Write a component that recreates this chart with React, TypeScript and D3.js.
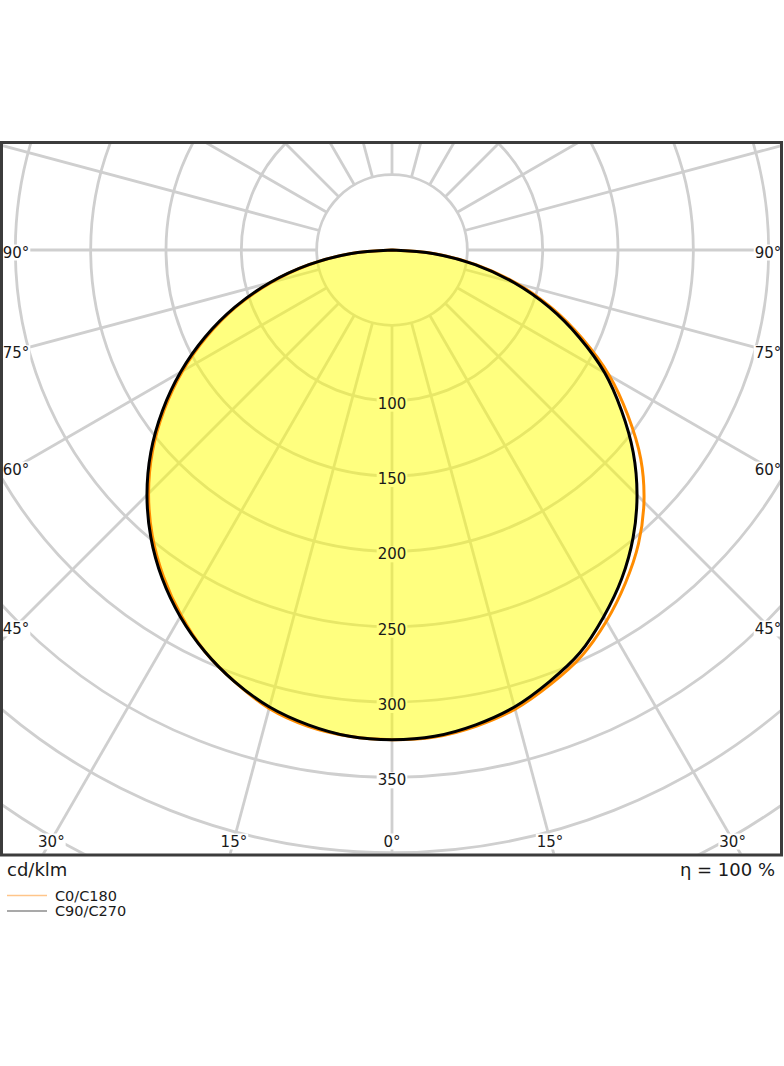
import { useEffect, useRef } from 'react';
import * as d3 from 'd3';

// gamma angles (deg) and luminous intensity in cd/klm per C-plane
const gammaAngles = [0, 5, 10, 15, 20, 25, 30, 35, 40, 45, 50, 55, 60, 65, 70, 75, 80, 85, 90];
const c0Values = [325, 324.5, 321, 315.5, 307, 297.5, 284.5, 270, 254.5, 236.5, 215.5, 191, 166.5, 139.5, 113, 85.5, 57, 28.5, 0];
const c180Values = [325, 324, 321, 315, 305, 294, 280, 264.5, 247.5, 228.5, 207.5, 184.5, 160.5, 135.5, 110, 83, 55.5, 28, 0];
const c90Values = [325, 324, 320, 314, 305, 295, 281, 266, 249, 230, 209, 186, 163, 137, 111, 84, 56, 28, 0];
const c270Values = [325, 324, 320, 314, 305, 294, 281, 266, 249, 230, 209, 186, 162, 137, 111, 84, 56, 28, 0];

const ringValues = [50, 100, 150, 200, 250, 300, 350, 400, 450, 500];
const ringLabels = [100, 150, 200, 250, 300, 350];
const sideAngleLabels = [90, 75, 60, 45];
const bottomAngleLabels = [30, 15, 0];

const legendItems = [
  { label: 'C0/C180', stroke: '#ffc58a', width: 1.6 },
  { label: 'C90/C270', stroke: '#555555', width: 1.2 },
];

const W = 784;
const H = 1066;
const frame = { x: 1.5, y: 142.5, w: 780, h: 712.5 };
const cx = 392;
const cy = 250;
const FONT = '"DejaVu Sans", sans-serif';
const rad = (deg: number) => (deg * Math.PI) / 180;

export default function App() {
  const svgRef = useRef<SVGSVGElement>(null);

  useEffect(() => {
    if (!svgRef.current) return;
    const svg = d3.select(svgRef.current);
    svg.selectAll('*').remove();

    const r = d3.scaleLinear().domain([0, 450]).range([0, 678]);

    svg.append('defs').append('clipPath').attr('id', 'plot-clip')
      .append('rect')
      .attr('x', frame.x + 1.5).attr('y', frame.y + 1.5)
      .attr('width', frame.w - 3).attr('height', frame.h - 3);

    const plot = svg.append('g').attr('clip-path', 'url(#plot-clip)');
    const gridG = plot.append('g').attr('transform', `translate(${cx},${cy})`);
    const bgG = plot.append('g');
    const fillG = plot.append('g').attr('transform', `translate(${cx},${cy})`);
    const curveG = plot.append('g').attr('transform', `translate(${cx},${cy})`);
    const textG = plot.append('g');

    // rings
    gridG.selectAll('circle')
      .data(ringValues)
      .join('circle')
      .attr('r', (d) => r(d))
      .attr('fill', 'none')
      .attr('stroke', '#cfcfcf')
      .attr('stroke-width', 2.8);

    // spokes every 15 degrees, starting at the 50 ring
    gridG.selectAll('line')
      .data(d3.range(0, 360, 15))
      .join('line')
      .attr('x1', (a) => r(50) * Math.sin(rad(a)))
      .attr('y1', (a) => r(50) * Math.cos(rad(a)))
      .attr('x2', (a) => r(520) * Math.sin(rad(a)))
      .attr('y2', (a) => r(520) * Math.cos(rad(a)))
      .attr('stroke', '#cfcfcf')
      .attr('stroke-width', 2.8);

    // labels (text on top, white boxes under the fill)
    const addLabel = (x: number, y: number, txt: string) => {
      const t = textG.append('text')
        .attr('x', x).attr('y', y)
        .attr('text-anchor', 'middle')
        .attr('dominant-baseline', 'central')
        .attr('font-family', FONT)
        .attr('font-size', 15)
        .attr('fill', '#1a1a1a')
        .text(txt);
      const b = (t.node() as SVGTextElement).getBBox();
      bgG.append('rect')
        .attr('x', b.x - 1).attr('y', b.y + 1)
        .attr('width', b.width + 2).attr('height', b.height - 2)
        .attr('fill', '#fff');
    };

    ringLabels.forEach((v) => addLabel(cx, cy + r(v) + 3, String(v)));
    sideAngleLabels.forEach((a) => {
      const dy = a === 90 ? 0 : 376 / Math.tan(rad(a));
      addLabel(cx - 376, cy + dy + 2.5, `${a}°`);
      addLabel(cx + 376, cy + dy + 2.5, `${a}°`);
    });
    bottomAngleLabels.forEach((a) => {
      const dx = 590 * Math.tan(rad(a));
      if (a === 0) {
        addLabel(cx, 841.5, '0°');
      } else {
        addLabel(cx - dx, 841.5, `${a}°`);
        addLabel(cx + dx, 841.5, `${a}°`);
      }
    });

    // curves: left half goes gamma 90 -> 0, right half 0 -> 90
    type P = { a: number; v: number };
    const halfPath = (left: number[], right: number[]): P[] => [
      ...gammaAngles.map((g, i) => ({ a: Math.PI + rad(g), v: left[i] })).reverse(),
      ...gammaAngles.slice(1).map((g, i) => ({ a: Math.PI - rad(g), v: right[i + 1] })),
    ];
    const line = d3.lineRadial<P>()
      .angle((d) => d.a)
      .radius((d) => r(d.v))
      .curve(d3.curveCatmullRom.alpha(0.5));

    const blackPts = halfPath(c270Values, c90Values);
    const orangePts = halfPath(c180Values, c0Values);

    fillG.append('path')
      .attr('d', line(blackPts) + 'Z')
      .attr('fill', '#ffff00')
      .attr('fill-opacity', 0.5);

    curveG.append('path')
      .attr('d', line(orangePts))
      .attr('fill', 'none')
      .attr('stroke', '#ff8c00')
      .attr('stroke-width', 3);

    curveG.append('path')
      .attr('d', line(blackPts))
      .attr('fill', 'none')
      .attr('stroke', '#000')
      .attr('stroke-width', 3);

    // frame
    svg.append('rect')
      .attr('x', frame.x).attr('y', frame.y)
      .attr('width', frame.w).attr('height', frame.h)
      .attr('fill', 'none')
      .attr('stroke', '#3c3c3c')
      .attr('stroke-width', 3);

    // footer
    svg.append('text')
      .attr('x', 7).attr('y', 869)
      .attr('dominant-baseline', 'central')
      .attr('font-family', FONT).attr('font-size', 18).attr('fill', '#1a1a1a')
      .text('cd/klm');
    svg.append('text')
      .attr('x', 775).attr('y', 869)
      .attr('text-anchor', 'end')
      .attr('dominant-baseline', 'central')
      .attr('font-family', FONT).attr('font-size', 18).attr('fill', '#1a1a1a')
      .text('η = 100 %');

    const leg = svg.append('g');
    legendItems.forEach((it, i) => {
      const y = 895.5 + i * 15.5;
      leg.append('line')
        .attr('x1', 7).attr('x2', 47).attr('y1', y).attr('y2', y)
        .attr('stroke', it.stroke).attr('stroke-width', it.width);
      leg.append('text')
        .attr('x', 55).attr('y', y)
        .attr('dominant-baseline', 'central')
        .attr('font-family', FONT).attr('font-size', 14.5).attr('fill', '#1a1a1a')
        .text(it.label);
    });
  }, []);

  return (
    <svg
      ref={svgRef}
      width={W}
      height={H}
      style={{ position: 'absolute', left: 0, top: 0, background: '#fff', display: 'block' }}
    />
  );
}
